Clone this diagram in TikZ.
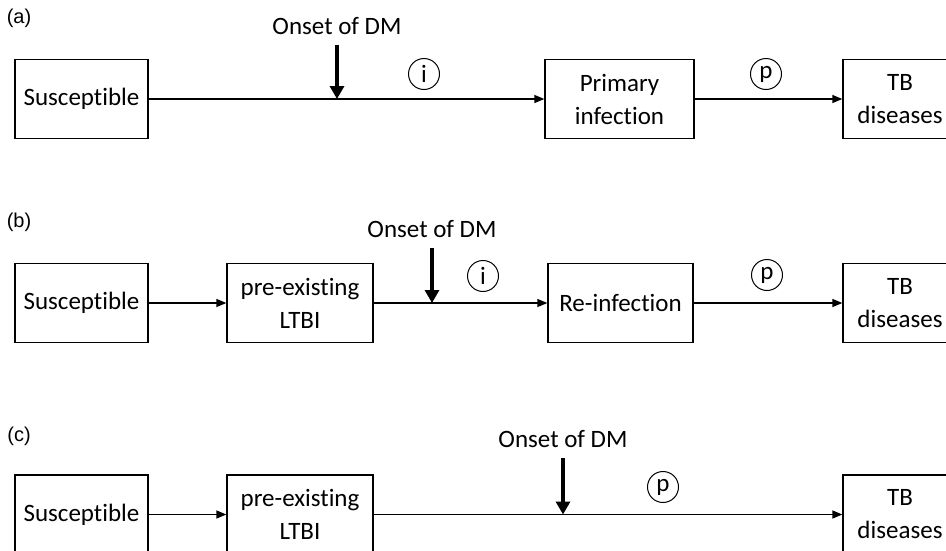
\documentclass[tikz,border=0pt]{standalone}
\usepackage{fontspec}
\setmainfont[Ligatures=NoCommon]{Carlito}
\newfontfamily\tagfont{Liberation Sans}
\usepackage{tikz}
\usetikzlibrary{positioning,arrows.meta}

\begin{document}
\begin{tikzpicture}
            [x=1pt,y=-1pt,every node/.style={font=\fontsize{25}{33}\selectfont, align=center},
             box/.style={draw, line width=1.3pt, minimum height=79pt, inner sep=0pt},
             rate/.style={draw, circle, line width=1pt, minimum size=31pt, inner sep=0pt},
             tag/.style={font=\tagfont\fontsize{20}{24}\selectfont},
             flow/.style={line width=1.3pt, -{Triangle[length=10pt,width=8pt]}},
             onset/.style={line width=4pt, -{Triangle[length=13pt,width=14pt]}}]
            \useasboundingbox (0,0) rectangle (946,550);
            \clip (0,0) rectangle (946,550);

            % (a)
            \node[tag] (tagA) at (19,18) {(a)};
            \node (onsetA) at (337,26) {Onset of DM};
            \node[box, minimum width=133pt] (suscA) at (81.5,99) {Susceptible};
            \node[box, minimum width=149pt] (prim) at (619.5,99) {Primary\\infection};
            \node[box, minimum width=114pt] (tbA) at (900,99) {TB\\diseases};
            \node[rate] (iA) at (424,74) {i};
            \node[rate] (pA) at (766,74) {p};
            \coordinate (hitA) at (337,99);

            % (b)
            \node[tag] (tagB) at (19,222) {(b)};
            \node (onsetB) at (432,229) {Onset of DM};
            \node[box, minimum width=133pt] (suscB) at (81.5,303) {Susceptible};
            \node[box, minimum width=146pt] (ltbiB) at (300,303) {pre-existing\\LTBI};
            \node[box, minimum width=145pt] (reinf) at (620.5,303) {Re-infection};
            \node[box, minimum width=114pt] (tbB) at (900,303) {TB\\diseases};
            \node[rate] (iB) at (483,276) {i};
            \node[rate] (pB) at (767,275) {p};
            \coordinate (hitB) at (432,303);

            % (c)
            \node[tag] (tagC) at (19,436) {(c)};
            \node (onsetC) at (563,439) {Onset of DM};
            \node[box, minimum width=133pt] (suscC) at (81.5,514.5) {Susceptible};
            \node[box, minimum width=146pt] (ltbiC) at (300,514.5) {pre-existing\\LTBI};
            \node[box, minimum width=114pt] (tbC) at (900,514.5) {TB\\diseases};
            \node[rate] (pC) at (663,487) {p};
            \coordinate (hitC) at (563,514.5);

            \foreach \from/\to in {suscA/prim, prim/tbA, suscB/ltbiB, ltbiB/reinf, reinf/tbB, suscC/ltbiC, ltbiC/tbC}
            \draw[flow] (\from) -- (\to);

            \foreach \txt/\hit in {onsetA/hitA, onsetB/hitB, onsetC/hitC}
            \draw[onset] (\txt) ++(0,19) -- (\hit);
          \end{tikzpicture}
\end{document}
